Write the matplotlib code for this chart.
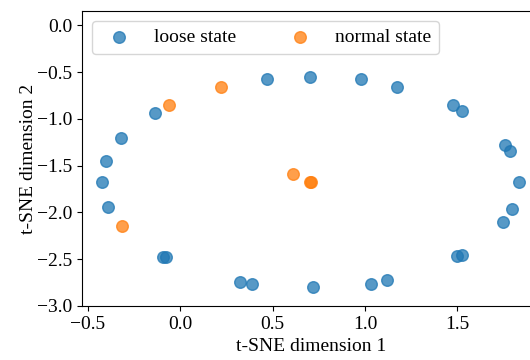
import matplotlib
matplotlib.use("Agg")
import matplotlib.pyplot as plt

# t-SNE coordinates
loose_x = [0.469, 0.70, 0.976, 1.171, 1.475, 1.527, 1.759, 1.784, 1.834, 1.794, 1.746,
           1.498, 1.523, 1.12, 1.03, 0.72, 0.389, 0.326, -0.09, -0.078, -0.388,
           -0.424, -0.399, -0.321, -0.137]
loose_y = [-0.574, -0.55, -0.578, -0.656, -0.851, -0.912, -1.277, -1.348, -1.68, -1.965, -2.10,
           -2.47, -2.45, -2.72, -2.76, -2.80, -2.76, -2.74, -2.475, -2.48, -1.947,
           -1.67, -1.454, -1.205, -0.933]
normal_x = [-0.061, 0.221, 0.613, 0.705, 0.709, -0.316]
normal_y = [-0.851, -0.663, -1.59, -1.674, -1.672, -2.149]

plt.rcParams['font.family'] = ['Liberation Serif', 'DejaVu Serif']
plt.rcParams['font.size'] = 14

fig = plt.figure(figsize=(5.3, 3.6), dpi=100)
ax = fig.add_axes([0.155, 0.15, 0.865, 0.819])

ax.scatter(loose_x, loose_y, s=70, color='tab:blue', alpha=0.75, label='loose state')
ax.scatter(normal_x, normal_y, s=70, color='tab:orange', alpha=0.75, label='normal state')

ax.set_xlim(-0.53, 1.95)
ax.set_ylim(-3.0, 0.15)
ax.set_xticks([-0.5, 0.0, 0.5, 1.0, 1.5])
ax.set_yticks([-3.0, -2.5, -2.0, -1.5, -1.0, -0.5, 0.0])
ax.set_xlabel('t-SNE dimension 1', labelpad=4)
ax.set_ylabel('t-SNE dimension 2', labelpad=0)
ax.legend(loc='upper left', ncol=2, columnspacing=2.3, handletextpad=0.8,
          bbox_to_anchor=(0.0, 1.0), borderaxespad=0.5)

fig.savefig('out.png', dpi=100)
